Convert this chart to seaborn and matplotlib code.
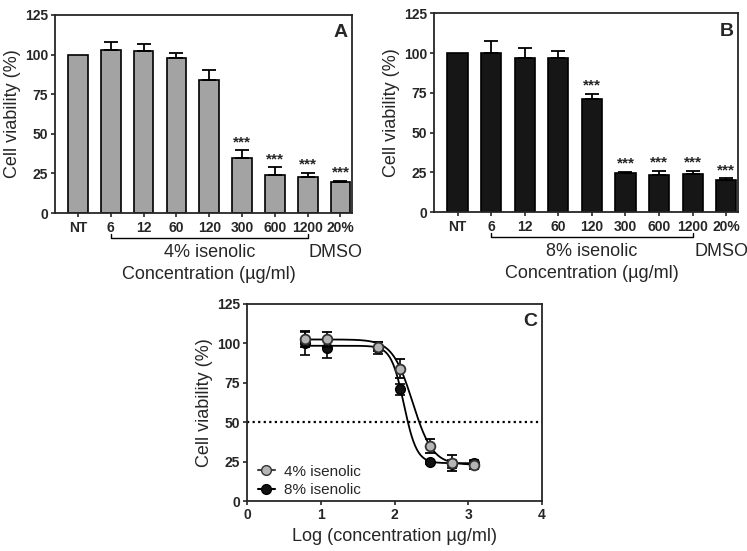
import matplotlib
matplotlib.use("Agg")

import matplotlib.pyplot as plt
import numpy as np
import pandas as pd
import seaborn as sns

# --- dados ------------------------------------------------------------------
categorias = ["NT", "6", "12", "60", "120", "300", "600", "1200", "20%"]
viab_4 = [100, 103, 102.5, 98, 84, 35, 24, 23, 19.5]
erro_4 = [0, 5, 4.5, 3, 6, 4.5, 5, 2.5, 1]
viab_8 = [100, 100, 97, 97, 71, 24.5, 23.5, 24, 20]
erro_8 = [0, 7.5, 6, 4, 3.5, 1, 2.5, 2, 1.5]
signif_4 = ["", "", "", "", "", "***", "***", "***", "***"]
signif_8 = ["", "", "", "", "***", "***", "***", "***", "***"]

# concentrações (µg/ml) usadas no painel C
conc = [6, 12, 60, 120, 300, 600, 1200]

# parâmetros do ajuste logístico (top, bottom, logEC50, hill)
ajuste_4 = (102.5, 23.0, 2.243, 3.17)
ajuste_8 = (98.5, 24.0, 2.126, 5.0)

sns.set_style("ticks")
plt.rcParams["font.family"] = ["Liberation Sans", "DejaVu Sans"]
plt.rcParams["axes.linewidth"] = 1.3

fig = plt.figure(figsize=(7.47, 5.51), dpi=100)


def painel_barras(ax, valores, erros, sig, cor, letra, rotulo):
    df = pd.DataFrame({"cat": categorias, "v": valores})
    sns.barplot(data=df, x="cat", y="v", ax=ax, color=cor, width=0.6,
                edgecolor="black", linewidth=1.2, saturation=1, errorbar=None)
    x = np.arange(len(categorias))
    e = np.array(erros)
    ax.errorbar(x[1:], np.array(valores)[1:], yerr=[np.zeros(len(e) - 1), e[1:]],
                fmt="none", ecolor="black", elinewidth=1.3, capsize=5, capthick=1.3)
    for xi, v, er, s in zip(x, valores, erros, sig):
        if s:
            ax.text(xi, v + er + 0.5, s, ha="center", va="bottom",
                    fontsize=11, fontweight="bold")
    ax.set_xlim(-0.7, 8.35)
    ax.set_ylim(0, 125)
    ax.set_yticks([0, 25, 50, 75, 100, 125])
    ax.set_xlabel("")
    ax.set_ylabel("Cell viability (%)", fontsize=13, labelpad=3)
    ax.tick_params(labelsize=10, width=1.2, length=3, pad=2)
    ax.tick_params(axis="x", length=3, pad=3)
    for t in ax.get_xticklabels() + ax.get_yticklabels():
        t.set_fontweight("bold")
    ax.text(0.985, 0.91, letra, transform=ax.transAxes, ha="right", va="center",
            fontsize=14, fontweight="bold")
    # colchete sob as concentrações
    tr = ax.get_xaxis_transform()
    yb = -0.125
    ax.plot([1, 1, 7, 7], [yb + 0.02, yb, yb, yb + 0.02], transform=tr,
            color="black", lw=1.0, clip_on=False)
    ax.text(4, -0.2, rotulo, transform=tr, ha="center", va="center", fontsize=13)
    ax.text(7.85, -0.2, "DMSO", transform=tr, ha="center", va="center", fontsize=13)
    ax.text(4, -0.31, "Concentration (µg/ml)", transform=tr, ha="center",
            va="center", fontsize=13)


ax_a = fig.add_axes([0.0736, 0.6134, 0.3976, 0.3594])
painel_barras(ax_a, viab_4, erro_4, signif_4, "#a3a3a3", "A", "4% isenolic")

ax_b = fig.add_axes([0.581, 0.615, 0.407, 0.361])
painel_barras(ax_b, viab_8, erro_8, signif_8, "#161616", "B", "8% isenolic")

# --- painel C: curva dose-resposta ------------------------------------------
ax_c = fig.add_axes([0.331, 0.0907, 0.3946, 0.3576])
logc = np.log10(conc)
xs = np.linspace(logc.min(), logc.max(), 300)


def logistica(x, top, bottom, ec50, hill):
    return bottom + (top - bottom) / (1 + 10 ** ((x - ec50) * hill))


ax_c.axhline(50, color="black", lw=1.6, ls=(0, (1, 1.5)))
sns.lineplot(x=xs, y=logistica(xs, *ajuste_4), ax=ax_c, color="black", lw=1.3)
sns.lineplot(x=xs, y=logistica(xs, *ajuste_8), ax=ax_c, color="black", lw=1.3)
ax_c.errorbar(logc, viab_8[1:8], yerr=erro_8[1:8], fmt="o", color="black",
              mfc="#111111", mec="black", ms=7, capsize=3.5, elinewidth=1.2,
              capthick=1.2, zorder=3)
ax_c.errorbar(logc, viab_4[1:8], yerr=erro_4[1:8], fmt="o", color="black",
              mfc="#b5b5b5", mec="#333333", ms=7, mew=1.3, capsize=3.5,
              elinewidth=1.2, capthick=1.2, zorder=4)
ax_c.plot([], [], "-o", color="#444444", mfc="#b5b5b5", mec="#333333", ms=7,
          label="4% isenolic")
ax_c.plot([], [], "-o", color="black", mfc="#111111", ms=7, label="8% isenolic")
ax_c.legend(loc="lower left", frameon=False, fontsize=11, handlelength=1.1,
            bbox_to_anchor=(-0.01, -0.05), labelspacing=0.3, handletextpad=0.6)
ax_c.set_xlim(0, 4)
ax_c.set_ylim(0, 125)
ax_c.set_xticks([0, 1, 2, 3, 4])
ax_c.set_yticks([0, 25, 50, 75, 100, 125])
ax_c.set_xlabel("Log (concentration µg/ml)", fontsize=13)
ax_c.set_ylabel("Cell viability (%)", fontsize=13, labelpad=3)
ax_c.tick_params(labelsize=10, width=1.2, length=3, pad=2)
for t in ax_c.get_xticklabels() + ax_c.get_yticklabels():
    t.set_fontweight("bold")
ax_c.text(0.985, 0.91, "C", transform=ax_c.transAxes, ha="right", va="center",
          fontsize=14, fontweight="bold")

fig.savefig("out.png", dpi=100)
